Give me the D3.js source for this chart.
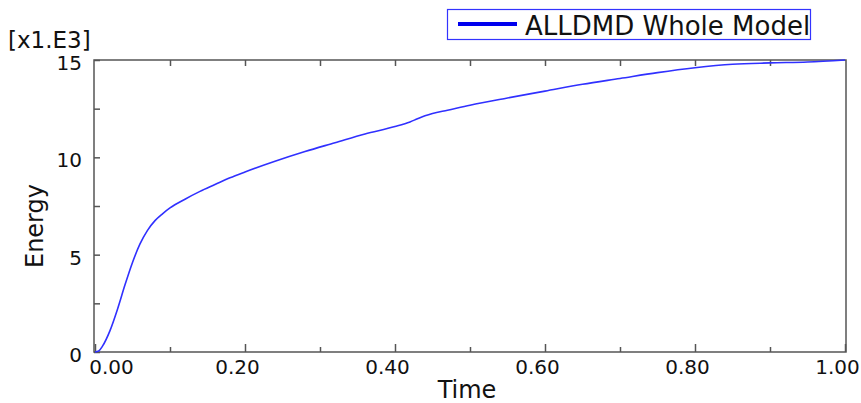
<!DOCTYPE html>
<html>
<head>
<meta charset="utf-8">
<script src="https://cdn.jsdelivr.net/npm/d3@7"></script>
<style>
  html, body { margin: 0; padding: 0; background: #fff; }
  svg { display: block; font-family: "DejaVu Sans", Verdana, sans-serif; }
</style>
</head>
<body>
<svg id="chart" width="861" height="403"></svg>
<script>
// ---- data ----
const seriesName = "ALLDMD Whole Model";
const time = [0, 0.005, 0.01, 0.02, 0.03, 0.04, 0.05, 0.06, 0.07, 0.08, 0.09, 0.10,
  0.12, 0.14, 0.16, 0.18, 0.20, 0.24, 0.28, 0.32, 0.36, 0.40, 0.42, 0.43, 0.44, 0.45, 0.47,
  0.50, 0.55, 0.60, 0.65, 0.70, 0.75, 0.80, 0.85, 0.90, 0.95, 1.00];
const energy = [0, 0.05, 0.3, 1.1, 2.2, 3.45, 4.6, 5.55, 6.25, 6.75, 7.1, 7.4,
  7.85, 8.25, 8.6, 8.95, 9.25, 9.8, 10.3, 10.75, 11.2, 11.58, 11.82, 11.98, 12.13, 12.25, 12.42,
  12.68, 13.05, 13.4, 13.75, 14.05, 14.35, 14.6, 14.78, 14.85, 14.9, 15.0];
const xMajorTicks = [0, 0.2, 0.4, 0.6, 0.8, 1.0];
const xMinorTicks = [0.1, 0.3, 0.5, 0.7, 0.9];
const yMajorTicks = [0, 5, 10, 15];
const yMinorTicks = [2.5, 7.5, 12.5];
const xTitle = "Time", yTitle = "Energy", yMultiplier = "[x1.E3]";

// ---- layout ----
const svg = d3.select("#chart");
const L = 94, R = 846, T = 60, B = 352;
const x = d3.scaleLinear().domain([0, 1]).range([95, 845]);
const y = d3.scaleLinear().domain([0, 15]).range([B, T]);
const axisColor = "#555";

// frame
svg.append("rect").attr("x", L).attr("y", T).attr("width", R - L).attr("height", B - T)
  .attr("fill", "none").attr("stroke", axisColor).attr("stroke-width", 1.5);

// bottom axis (ticks inward)
const xAxis = d3.axisBottom(x).tickValues(xMajorTicks).tickSizeInner(-8).tickSizeOuter(0)
  .tickFormat(d3.format(".2f"));
const gx = svg.append("g").attr("transform", `translate(0,${B})`).call(xAxis);
gx.select(".domain").remove();
gx.selectAll(".tick line").attr("stroke", axisColor).attr("stroke-width", 1.5);
gx.selectAll(".tick text").attr("fill", "#111").attr("font-size", 20)
  .attr("font-family", "DejaVu Sans").attr("y", 22).attr("dy", 0)
  .attr("dx", d => d === 0 ? 16 : -8);
const gxm = svg.append("g").attr("transform", `translate(0,${B})`)
  .call(d3.axisBottom(x).tickValues(xMinorTicks).tickSizeInner(-5).tickSizeOuter(0).tickFormat(""));
gxm.select(".domain").remove();
gxm.selectAll(".tick line").attr("stroke", axisColor).attr("stroke-width", 1.5);

// top axis ticks
const gt = svg.append("g").attr("transform", `translate(0,${T})`)
  .call(d3.axisTop(x).tickValues(xMajorTicks.concat(xMinorTicks).filter(d => d > 0 && d < 1))
    .tickSizeInner(-6).tickSizeOuter(0).tickFormat(""));
gt.select(".domain").remove();
gt.selectAll(".tick line").attr("stroke", axisColor).attr("stroke-width", 1.5);

// left axis
const yAxis = d3.axisLeft(y).tickValues(yMajorTicks).tickSizeInner(-6).tickSizeOuter(0)
  .tickFormat(d3.format("d"));
const gy = svg.append("g").attr("transform", `translate(${L},0)`).call(yAxis);
gy.select(".domain").remove();
gy.selectAll(".tick line").attr("stroke", axisColor).attr("stroke-width", 1.5);
gy.selectAll(".tick text").attr("fill", "#111").attr("font-size", 20)
  .attr("font-family", "DejaVu Sans").attr("x", -12).attr("y", 2).attr("dy", "0.38em");
const gym = svg.append("g").attr("transform", `translate(${L},0)`)
  .call(d3.axisLeft(y).tickValues(yMinorTicks).tickSizeInner(-6).tickSizeOuter(0).tickFormat(""));
gym.select(".domain").remove();
gym.selectAll(".tick line").attr("stroke", axisColor).attr("stroke-width", 1.5);

// multiplier
svg.append("text").attr("x", 8).attr("y", 48).attr("font-size", 23).attr("fill", "#111")
  .text(yMultiplier);

// titles
svg.append("text").attr("x", 467).attr("y", 398).attr("text-anchor", "middle")
  .attr("font-size", 24).attr("fill", "#111").text(xTitle);
svg.append("text").attr("transform", "translate(43,226) rotate(-90)").attr("text-anchor", "middle")
  .attr("font-size", 24).attr("fill", "#111").text(yTitle);

// curve
const data = time.map((t, i) => ({ t, v: energy[i] }));
svg.append("path").datum(data)
  .attr("fill", "none").attr("stroke", "#3030ff").attr("stroke-width", 1.6)
  .attr("d", d3.line().x(d => x(d.t)).y(d => y(d.v)).curve(d3.curveMonotoneX));

// legend
const lg = svg.append("g");
lg.append("rect").attr("x", 447.5).attr("y", 9.5).attr("width", 363).attr("height", 30)
  .attr("fill", "#fff").attr("stroke", "#3333ff").attr("stroke-width", 1.2);
lg.append("line").attr("x1", 458).attr("x2", 517).attr("y1", 24).attr("y2", 24)
  .attr("stroke", "#0000ee").attr("stroke-width", 4);
lg.append("text").attr("x", 525).attr("y", 35).attr("font-size", 26).attr("fill", "#111")
  .text(seriesName);
</script>
</body>
</html>
